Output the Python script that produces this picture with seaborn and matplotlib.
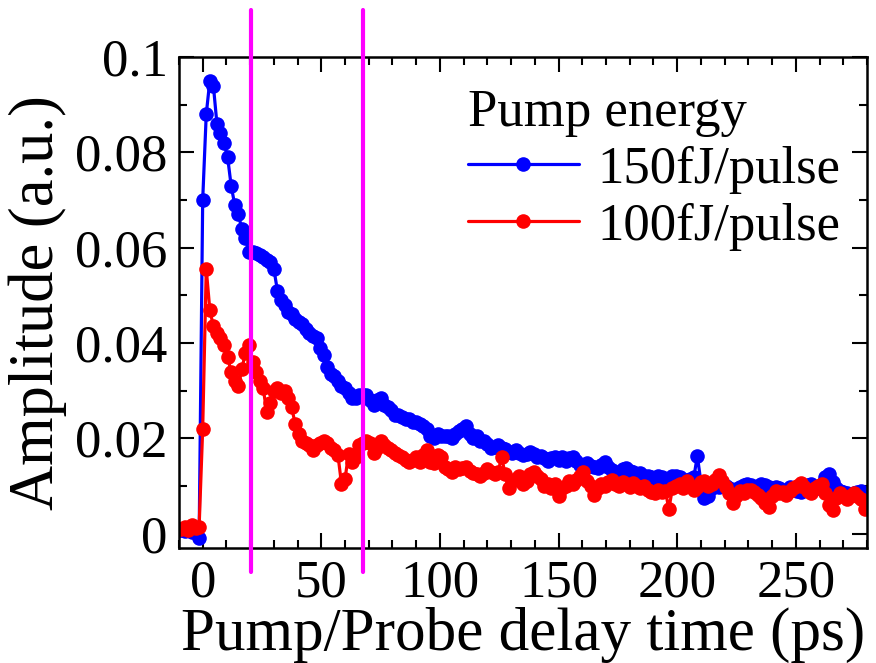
import numpy as np
import pandas as pd
import matplotlib
matplotlib.use("Agg")
import matplotlib.pyplot as plt
from matplotlib.ticker import MultipleLocator, FuncFormatter
import seaborn as sns

# ---------------- data ----------------
delay_ps = np.arange(-9, 279.1, 1.5)   # delay grid (ps)

amp_150 = [
    0.0008, 0.0005, 0.0010, 0.0003, 0.0006, -0.0010, 0.0700, 0.0880, 0.0950, 0.0940,
    0.0860, 0.0840, 0.0820, 0.0790, 0.0730, 0.0690, 0.0670, 0.0640, 0.0620, 0.0590,
    0.0590, 0.0588, 0.0585, 0.0580, 0.0575, 0.0570, 0.0555, 0.0510, 0.0490, 0.0480,
    0.0465, 0.0460, 0.0450, 0.0445, 0.0440, 0.0430, 0.0420, 0.0415, 0.0410, 0.0390,
    0.0375, 0.0350, 0.0335, 0.0330, 0.0320, 0.0310, 0.0305, 0.0295, 0.0285, 0.0285,
    0.0290, 0.0290, 0.0290, 0.0280, 0.0270, 0.0280, 0.0285, 0.0270, 0.0265, 0.0260,
    0.0250, 0.0250, 0.0245, 0.0240, 0.0240, 0.0235, 0.0235, 0.0230, 0.0225, 0.0220,
    0.0205, 0.0200, 0.0210, 0.0205, 0.0205, 0.0205, 0.0200, 0.0210, 0.0215, 0.0220,
    0.0225, 0.0210, 0.0200, 0.0205, 0.0195, 0.0195, 0.0188, 0.0180, 0.0182, 0.0185,
    0.0180, 0.0178, 0.0172, 0.0170, 0.0175, 0.0170, 0.0165, 0.0168, 0.0172, 0.0168,
    0.0160, 0.0162, 0.0158, 0.0153, 0.0158, 0.0160, 0.0155, 0.0160, 0.0152, 0.0158,
    0.0160, 0.0152, 0.0145, 0.0142, 0.0148, 0.0143, 0.0140, 0.0138, 0.0145, 0.0150,
    0.0140, 0.0133, 0.0130, 0.0128, 0.0135, 0.0138, 0.0132, 0.0130, 0.0125, 0.0128,
    0.0122, 0.0120, 0.0118, 0.0115, 0.0120, 0.0118, 0.0112, 0.0115, 0.0120, 0.0122,
    0.0118, 0.0110, 0.0112, 0.0115, 0.0118, 0.0163, 0.0108, 0.0075, 0.0080, 0.0095,
    0.0100, 0.0098, 0.0102, 0.0100, 0.0095, 0.0090, 0.0093, 0.0098, 0.0102, 0.0105,
    0.0103, 0.0098, 0.0100, 0.0105, 0.0103, 0.0098, 0.0095, 0.0098, 0.0095, 0.0090,
    0.0092, 0.0097, 0.0095, 0.0090, 0.0088, 0.0095, 0.0102, 0.0105, 0.0098, 0.0095,
    0.0105, 0.0118, 0.0125, 0.0108, 0.0095, 0.0090, 0.0088, 0.0085, 0.0082, 0.0085,
    0.0088, 0.0090, 0.0083,
]

amp_100 = [
    0.0010, 0.0015, 0.0008, 0.0018, 0.0012, 0.0015, 0.0220, 0.0555, 0.0470, 0.0435,
    0.0420, 0.0410, 0.0395, 0.0370, 0.0340, 0.0320, 0.0310, 0.0345, 0.0380, 0.0395,
    0.0360, 0.0340, 0.0320, 0.0305, 0.0255, 0.0275, 0.0300, 0.0305, 0.0295, 0.0300,
    0.0285, 0.0265, 0.0230, 0.0210, 0.0195, 0.0190, 0.0185, 0.0175, 0.0185, 0.0190,
    0.0195, 0.0190, 0.0180, 0.0175, 0.0165, 0.0105, 0.0115, 0.0168, 0.0150, 0.0160,
    0.0185, 0.0190, 0.0195, 0.0190, 0.0170, 0.0180, 0.0195, 0.0185, 0.0180, 0.0175,
    0.0170, 0.0165, 0.0160, 0.0155, 0.0150, 0.0155, 0.0160, 0.0150, 0.0165, 0.0175,
    0.0150, 0.0148, 0.0165, 0.0160, 0.0140, 0.0135, 0.0130, 0.0140, 0.0135, 0.0138,
    0.0140, 0.0132, 0.0128, 0.0125, 0.0120, 0.0128, 0.0135, 0.0130, 0.0125, 0.0130,
    0.0160, 0.0125, 0.0095, 0.0110, 0.0115, 0.0120, 0.0105, 0.0110, 0.0125, 0.0130,
    0.0120, 0.0115, 0.0100, 0.0105, 0.0095, 0.0105, 0.0080, 0.0095, 0.0100, 0.0110,
    0.0105, 0.0112, 0.0120, 0.0130, 0.0110, 0.0100, 0.0082, 0.0095, 0.0105, 0.0100,
    0.0108, 0.0112, 0.0105, 0.0100, 0.0108, 0.0104, 0.0098, 0.0106, 0.0100, 0.0095,
    0.0100, 0.0092, 0.0088, 0.0085, 0.0092, 0.0088, 0.0090, 0.0052, 0.0095, 0.0100,
    0.0105, 0.0095, 0.0110, 0.0100, 0.0092, 0.0098, 0.0108, 0.0110, 0.0100, 0.0105,
    0.0112, 0.0123, 0.0110, 0.0098, 0.0085, 0.0064, 0.0078, 0.0090, 0.0085, 0.0092,
    0.0092, 0.0088, 0.0082, 0.0075, 0.0065, 0.0057, 0.0080, 0.0090, 0.0085, 0.0088,
    0.0082, 0.0090, 0.0095, 0.0100, 0.0106, 0.0098, 0.0090, 0.0085, 0.0095, 0.0100,
    0.0104, 0.0085, 0.0060, 0.0050, 0.0075, 0.0085, 0.0080, 0.0072, 0.0078, 0.0085,
    0.0080, 0.0072, 0.0052,
]

series_labels = ["150fJ/pulse", "100fJ/pulse"]
series_colors = ["#0000ff", "#ff0000"]
marker_lines_ps = [20.5, 67.5]
legend_title = "Pump energy"
x_label = "Pump/Probe delay time (ps)"
y_label = "Amplitude (a.u.)"

# ---------------- style ----------------
sns.set_theme(style="ticks")
plt.rcParams["font.family"] = ["Liberation Serif", "DejaVu Serif"]
plt.rcParams["axes.linewidth"] = 1.8
for k in ["text.color", "axes.labelcolor", "xtick.color", "ytick.color",
          "xtick.labelcolor", "ytick.labelcolor", "axes.edgecolor"]:
    plt.rcParams[k] = "black"

fig = plt.figure(figsize=(8.76, 6.63), dpi=100)
ax = fig.add_axes([0.2043, 0.1735, 0.7854, 0.7405])

for lab, col, vals in zip(series_labels, series_colors, [amp_150, amp_100]):
    df = pd.DataFrame({"delay": delay_ps, "amp": vals})
    sns.lineplot(data=df, x="delay", y="amp", ax=ax, color=col, label=lab,
                 marker="o", markersize=10.5, markeredgewidth=0, linewidth=2.3,
                 estimator=None, sort=False)

for xv in marker_lines_ps:
    ax.axvline(xv, ymin=-0.049, ymax=1.096, color="#ff00ff", linewidth=3,
               clip_on=False, zorder=5)

ax.set_xlim(-10, 280)
ax.set_ylim(-0.003, 0.1)
ax.xaxis.set_major_locator(MultipleLocator(50))
ax.xaxis.set_minor_locator(MultipleLocator(10))
ax.yaxis.set_major_locator(MultipleLocator(0.02))
ax.yaxis.set_minor_locator(MultipleLocator(0.01))
ax.yaxis.set_major_formatter(FuncFormatter(lambda v, p: "0" if abs(v) < 1e-9 else f"{round(v, 4):g}"))

ax.tick_params(which="both", direction="in", top=True, right=True, color="black",
               labelcolor="black")
ax.tick_params(which="major", length=11, width=1.5, labelsize=38, pad=8)
ax.tick_params(which="minor", length=6, width=1.5)
for s in ax.spines.values():
    s.set_color("black")
    s.set_linewidth(1.8)

ax.set_xlabel(x_label, fontsize=44, labelpad=0, color="black")
ax.set_ylabel(y_label, fontsize=45, labelpad=6, color="black")

leg = ax.legend(title=legend_title, loc="upper left", bbox_to_anchor=(0.42, 0.935),
                frameon=False, fontsize=38, title_fontsize=38, alignment="left",
                handlelength=2.1, handletextpad=0.35, labelspacing=0.17,
                borderpad=0, borderaxespad=0, numpoints=1)
for t in leg.get_texts():
    t.set_color("black")
leg.get_title().set_color("black")

fig.savefig("out.png", dpi=100)
